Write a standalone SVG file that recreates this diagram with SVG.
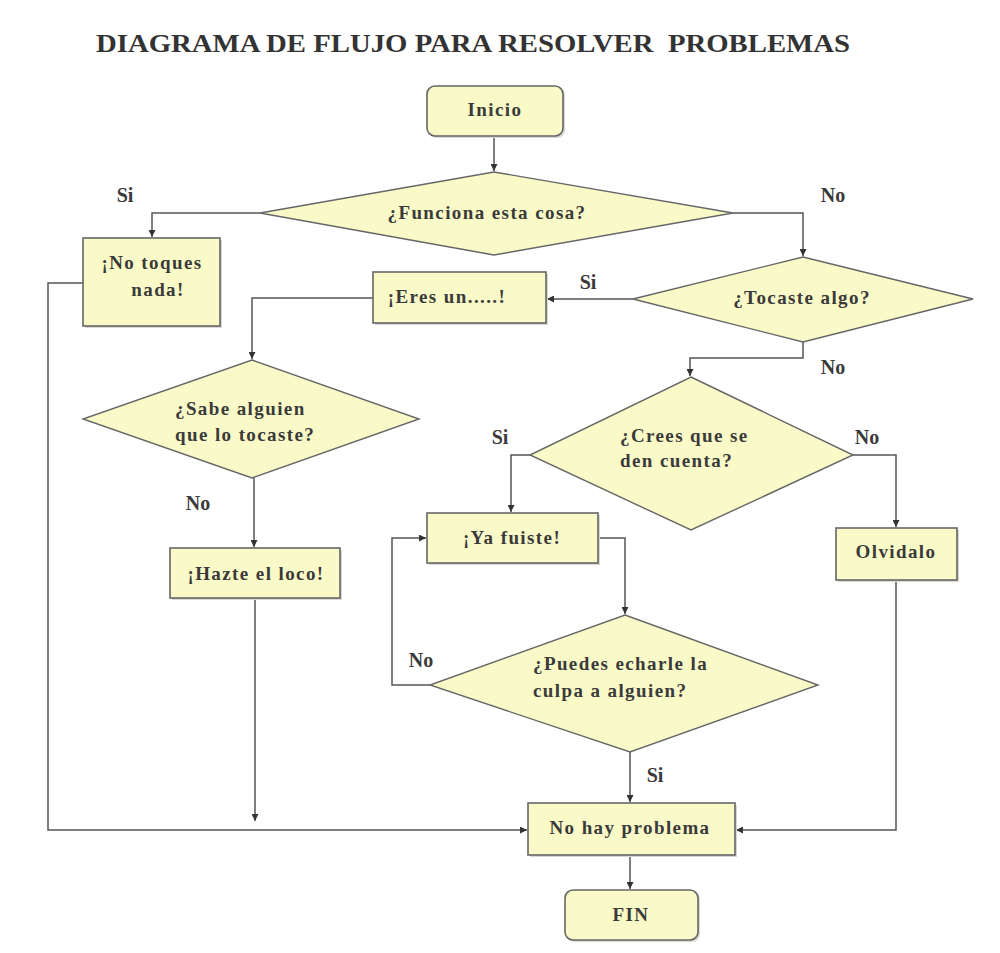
<svg xmlns="http://www.w3.org/2000/svg" width="1000" height="953" viewBox="0 0 1000 953">
<defs>
<marker id="arr" viewBox="0 0 10 10" refX="10" refY="5" markerWidth="7" markerHeight="7" markerUnits="userSpaceOnUse" orient="auto">
<path d="M0,0 L10,5 L0,10 z" fill="#333"/>
</marker>
<style>
.box{fill:#fafac8;stroke:#666;stroke-width:1.6}
.dia{fill:#fafac8;stroke:#666;stroke-width:1.4}
.sh{fill:#d8d8d0}
.t{font-family:"Liberation Serif","Times New Roman",serif;font-weight:bold;font-size:19px;letter-spacing:1.4px;fill:#3a3a3a}
.c{text-anchor:middle}
.lbl{font-family:"Liberation Serif","Times New Roman",serif;font-weight:bold;font-size:20px;fill:#3a3a3a;text-anchor:middle}
.ln{fill:none;stroke:#555;stroke-width:1.5}
.title{font-family:"Liberation Serif","Times New Roman",serif;font-weight:bold;font-size:26px;fill:#333}
</style>
</defs>
<rect width="1000" height="953" fill="#fff"/>
<text class="title" x="96" y="52" textLength="754" lengthAdjust="spacingAndGlyphs" xml:space="preserve">DIAGRAMA DE FLUJO PARA RESOLVER  PROBLEMAS</text>

<g id="connectors">
<path class="ln" d="M494,136 V171" marker-end="url(#arr)"/>
<path class="ln" d="M260,213 H152 V237" marker-end="url(#arr)"/>
<path class="ln" d="M733,213 H803 V256" marker-end="url(#arr)"/>
<path class="ln" d="M633,299 H547" marker-end="url(#arr)"/>
<path class="ln" d="M373,298 H252 V359" marker-end="url(#arr)"/>
<path class="ln" d="M803,342 V358 H690 V376" marker-end="url(#arr)"/>
<path class="ln" d="M254,478 V547" marker-end="url(#arr)"/>
<path class="ln" d="M255,598 V821" marker-end="url(#arr)"/>
<path class="ln" d="M83,283 H48 V830 H527" marker-end="url(#arr)"/>
<path class="ln" d="M530,455 H511 V512" marker-end="url(#arr)"/>
<path class="ln" d="M853,455 H896 V527" marker-end="url(#arr)"/>
<path class="ln" d="M598,538 H625 V614" marker-end="url(#arr)"/>
<path class="ln" d="M430,685 H392 V538 H426" marker-end="url(#arr)"/>
<path class="ln" d="M630,752 V802" marker-end="url(#arr)"/>
<path class="ln" d="M896,580 V830 H736" marker-end="url(#arr)"/>
<path class="ln" d="M630,855 V889" marker-end="url(#arr)"/>
</g>

<g id="labels">
<text class="lbl" x="125" y="202">Si</text>
<text class="lbl" x="833" y="202">No</text>
<text class="lbl" x="588" y="289">Si</text>
<text class="lbl" x="833" y="374">No</text>
<text class="lbl" x="198" y="510">No</text>
<text class="lbl" x="500" y="444">Si</text>
<text class="lbl" x="867" y="444">No</text>
<text class="lbl" x="421" y="667">No</text>
<text class="lbl" x="655" y="782">Si</text>
</g>

<g id="inicio">
<rect class="sh" x="429" y="88" width="136" height="50" rx="8"/>
<rect class="box" x="427" y="86" width="136" height="50" rx="8"/>
<text class="t c" x="495" y="116">Inicio</text>
</g>
<g id="funciona">
<polygon class="dia" points="494,172 733,213 494,255 260,213"/>
<text class="t c" x="487" y="219">¿Funciona esta cosa?</text>
</g>
<g id="notoques">
<rect class="sh" x="85" y="240" width="137" height="88"/>
<rect class="box" x="83" y="238" width="137" height="88"/>
<text class="t c" x="152" y="269">¡No toques</text>
<text class="t c" x="158" y="296">nada!</text>
</g>
<g id="tocaste">
<polygon class="dia" points="803,257 973,299 803,342 633,299"/>
<text class="t c" x="802" y="304">¿Tocaste algo?</text>
</g>
<g id="eresun">
<rect class="sh" x="375" y="274" width="173" height="51"/>
<rect class="box" x="373" y="272" width="173" height="51"/>
<text class="t c" x="447" y="303">¡Eres un.....!</text>
</g>
<g id="sabe">
<polygon class="dia" points="252,360 419,419 252,478 83,419"/>
<text class="t" x="175" y="415">¿Sabe alguien</text>
<text class="t" x="175" y="441">que lo tocaste?</text>
</g>
<g id="hazte">
<rect class="sh" x="172" y="550" width="170" height="50"/>
<rect class="box" x="170" y="548" width="170" height="50"/>
<text class="t c" x="256" y="580">¡Hazte el loco!</text>
</g>
<g id="crees">
<polygon class="dia" points="691,377 853,455 691,530 530,455"/>
<text class="t" x="620" y="442">¿Crees que se</text>
<text class="t" x="620" y="467">den cuenta?</text>
</g>
<g id="yafuiste">
<rect class="sh" x="429" y="515" width="171" height="50"/>
<rect class="box" x="427" y="513" width="171" height="50"/>
<text class="t c" x="512" y="544">¡Ya fuiste!</text>
</g>
<g id="olvidalo">
<rect class="sh" x="838" y="530" width="121" height="52"/>
<rect class="box" x="836" y="528" width="121" height="52"/>
<text class="t c" x="896" y="558">Olvidalo</text>
</g>
<g id="puedes">
<polygon class="dia" points="625,615 818,685 630,752 430,685"/>
<text class="t" x="533" y="670">¿Puedes echarle la</text>
<text class="t" x="533" y="697">culpa a alguien?</text>
</g>
<g id="nohay">
<rect class="sh" x="530" y="805" width="207" height="52"/>
<rect class="box" x="528" y="803" width="207" height="52"/>
<text class="t c" x="630" y="834">No hay problema</text>
</g>
<g id="fin">
<rect class="sh" x="567" y="892" width="133" height="50" rx="8"/>
<rect class="box" x="565" y="890" width="133" height="50" rx="8"/>
<text class="t c" x="631" y="921">FIN</text>
</g>
</svg>
